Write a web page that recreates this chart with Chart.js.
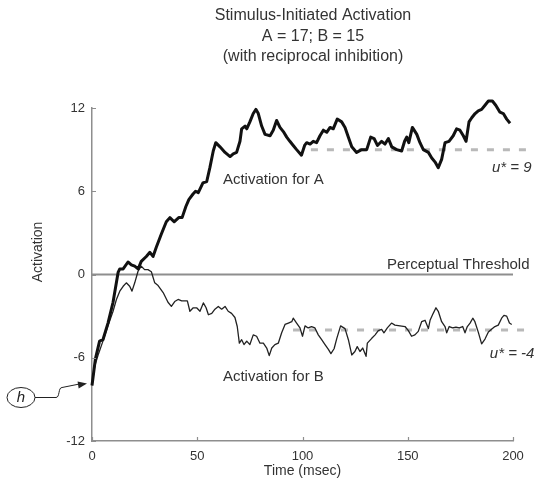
<!DOCTYPE html>
<html>
<head>
<meta charset="utf-8">
<script src="https://cdn.jsdelivr.net/npm/chart.js@4.4.1/dist/chart.umd.min.js"></script>
<style>
  html, body { margin: 0; padding: 0; background: #fff; }
</style>
</head>
<body>
<canvas id="act" width="536" height="486"></canvas>
<script>
// unit A (thick trace): time in msec, activation
const timeA = [0, 1.6, 3.6, 5.2, 7.6, 10, 12.4, 13.2, 14.8, 17.1, 18.7, 20.3, 21.9, 23.4, 25.8, 27.5, 29, 30.5, 32.9, 35.3,
  37, 39, 41.2, 42.8, 44.6, 46, 48, 49.2, 50.5, 52.7, 54.5, 56, 57.6, 58.8, 60.8, 63.2, 65.6, 67.1, 68.7, 70.3,
  71.1, 72.7, 73.5, 75, 76.6, 77.9, 79, 80.6, 82.2, 84.6, 86.1, 87.7, 89.3, 90.9, 92.5, 94, 95.6, 97.2, 99.5, 101,
  102, 103.6, 105.1, 106.7, 108.3, 109.9, 111.5, 113.1, 114.6, 116.5, 118.6, 120.2, 121.8, 123.4, 125.7, 128.1, 130.5, 132.4, 134, 135.6,
  137.6, 139.2, 140.8, 142.4, 144.7, 147.1, 148.5, 149.5, 150.5, 152.2, 154.3, 155.8, 157.4, 159.8, 161.4, 163, 164.5, 166.1, 167.7, 169.6,
  171.6, 173.2, 174.8, 176.4, 177.7, 179.1, 180.4, 182, 183.5, 185.1, 186.7, 188.3, 190.2, 191.8, 193.8, 195.4, 197, 198.6];
const actA = [-8, -6.1, -4.8, -4.7, -3.5, -2, 0.15, 0.4, 0.4, 0.9, 0.7, 0.6, 0.4, 0.95, 1.3, 1.6, 1.3, 1.95, 2.9, 3.8,
  4.1, 3.8, 4.1, 4.1, 4.9, 5.4, 5.8, 6, 5.9, 6.6, 6.7, 7.7, 8.9, 9.5, 9.2, 8.8, 8.5, 8.7, 8.8, 9.6,
  10.5, 10.7, 10.5, 11, 11.6, 11.9, 11.6, 10.7, 10.1, 10, 10.4, 11.1, 10.6, 10.3, 9.9, 9.6, 9.3, 9, 8.6, 9.3,
  9.5, 9.4, 9.6, 9.5, 10, 10.4, 10.25, 10.6, 10.5, 11.2, 11, 10.6, 9.9, 9.2, 8.8, 9, 9, 9.9, 9.8, 9.3,
  9.6, 9.4, 9.8, 9.2, 9, 8.9, 9.6, 9.9, 9.5, 10.6, 10.1, 9.5, 9, 8.8, 8.4, 8.1, 7.7, 8.3, 9.5, 9.6,
  10, 10.5, 10.4, 10, 9.6, 11, 11.3, 11.6, 11.8, 11.9, 12.2, 12.5, 12.5, 12.2, 11.7, 11.6, 11.2, 10.9];

// unit B (thin trace)
const timeB = [0, 1.3, 2.9, 5.2, 7.6, 10, 11.6, 13.2, 14.8, 16.3, 17.9, 19, 20.3, 21.9, 23.4, 25, 26.6, 28.2, 29.8, 31.4,
  33.8, 36.1, 37.7, 39.3, 40.9, 42.6, 44.2, 45.3, 46.5, 48.1, 49.7, 51.3, 52.9, 54.2, 55.3, 56.9, 58.4, 60, 61.6, 63.2,
  64.7, 66.3, 67.9, 69, 70, 71.1, 72.2, 73.5, 75, 76.6, 78.2, 79.8, 81.4, 83, 84.2, 85.4, 86.9, 88.5, 90.1, 91.7,
  93.3, 94.9, 95.6, 97.2, 98.8, 100, 101.2, 102.7, 104.3, 105.9, 107.5, 109.1, 110.7, 112.3, 113.5, 115, 116.3, 118.1, 120.2, 121.8,
  123.4, 124.9, 126, 127.3, 128.6, 130.2, 130.8, 132.9, 134.5, 136, 137.6, 138.7, 140.3, 142.3, 143.9, 146.3, 148.7, 150.3, 151.8, 153.4,
  155, 156.6, 158.2, 159.8, 160.6, 162.1, 163.4, 164.5, 166.1, 167.7, 168.5, 169.7, 171.3, 172.9, 174.5, 176.1, 177.2, 178.3, 179.6, 180.9,
  181.9, 183.5, 185.1, 186.7, 188.3, 189.8, 191.4, 193, 194.6, 195.7, 197, 198.3, 199.4];
const actB = [-8, -6.6, -5.8, -4.8, -3.7, -2.65, -1.8, -1.2, -0.85, -0.6, -0.85, -1.2, -0.6, 0.25, 0.6, 0.35, 0.35, 0.2, -0.6, -0.8,
  -1.3, -2, -2.3, -1.95, -1.8, -1.9, -1.9, -1.9, -2.65, -2.4, -2.4, -2.65, -2.05, -2.4, -2.9, -2.8, -2.5, -2.3, -2.5, -2.3,
  -2.65, -2.8, -3.1, -3.75, -4.95, -4.7, -5.05, -4.8, -5.05, -4.35, -4.45, -4.95, -4.95, -5.3, -5.85, -5.3, -5.05, -4.95, -4.2, -3.6,
  -3.5, -3.4, -3.15, -3.5, -3.85, -4.45, -3.7, -3.85, -3.75, -3.85, -4.35, -4.7, -5.05, -5.4, -5.7, -5.35, -4.6, -3.7, -3.9, -4.7,
  -5.8, -5.55, -5.2, -5.55, -5.3, -5.9, -4.95, -4.6, -4.35, -4.05, -3.95, -4.2, -3.85, -3.5, -3.65, -3.7, -3.75, -4.05, -4.45, -4.35,
  -4.1, -3.4, -3.3, -3.9, -3.3, -2.8, -2.4, -2.65, -3.4, -3.75, -4.2, -3.75, -3.85, -3.8, -3.85, -3.75, -4.2, -3.75, -3.5, -3.15,
  -3.4, -4.15, -5, -4.65, -4.15, -3.95, -3.75, -3.65, -3.15, -2.95, -3, -3.5, -3.6];

// equilibrium levels u* and where their dashed guides run
const uStarA = 9, uStarB = -4;
const uSpanA = [104, 207], uSpanB = [95.5, 207];
const threshold = 0;
const thresholdSpan = [0, 200];

const xTicks = [0, 50, 100, 150, 200];
const yTicks = [-12, -6, 0, 6, 12];
const titleLines = ['Stimulus-Initiated Activation', 'A = 17; B = 15', '(with reciprocal inhibition)'];

const FONT = "'Liberation Sans', Arial, sans-serif";
const TEXT = '#333';
const AXIS = '#8e8e8e';

const pts = (xs, ys) => xs.map((x, i) => ({ x, y: ys[i] }));
const flat = (span, v) => span.map(x => ({ x, y: v }));

// titles, inner tick marks, curve labels and the h marker
const decor = {
  id: 'decor',
  afterDraw(chart) {
    const { ctx, chartArea: ca, scales: { x, y } } = chart;
    ctx.save();

    // short tick marks pointing into the plot
    ctx.strokeStyle = AXIS;
    ctx.lineWidth = 1.2;
    ctx.beginPath();
    x.ticks.forEach(t => {
      const px = Math.round(x.getPixelForValue(t.value)) + 0.5;
      ctx.moveTo(px, ca.bottom);
      ctx.lineTo(px, ca.bottom - 4);
    });
    y.ticks.forEach(t => {
      const py = Math.round(y.getPixelForValue(t.value)) + 0.5;
      ctx.moveTo(ca.left, py);
      ctx.lineTo(ca.left + 4, py);
    });
    ctx.stroke();

    ctx.fillStyle = TEXT;
    ctx.textAlign = 'center';
    ctx.textBaseline = 'middle';
    ctx.font = '16px ' + FONT;
    titleLines.forEach((s, i) => ctx.fillText(s, 313, 16 + i * 20.5));

    ctx.font = '14px ' + FONT;
    ctx.fillText('Time (msec)', (ca.left + ca.right) / 2, 471);
    ctx.save();
    ctx.translate(38, 252);
    ctx.rotate(-Math.PI / 2);
    ctx.fillText('Activation', 0, 0);
    ctx.restore();

    // labels placed in data coordinates
    const label = (s, t, v, font) => {
      ctx.font = font;
      ctx.textAlign = 'left';
      ctx.textBaseline = 'alphabetic';
      ctx.fillText(s, x.getPixelForValue(t), y.getPixelForValue(v));
    };
    const plain = '15px ' + FONT, ital = 'italic 15px ' + FONT;
    label('Perceptual Threshold', 140.1, threshold + 0.42, plain);
    label('Activation for A', 62.2, 6.5, plain);
    label('Activation for B', 62.2, -7.7, plain);
    label('u* = 9', 190, 7.4, ital);
    label('u* = -4', 189, -6.0, ital);

    // h: starting activation, arrow to the first point
    const x0 = x.getPixelForValue(timeA[0]);
    const y0 = y.getPixelForValue(actA[0]);
    ctx.strokeStyle = '#222';
    ctx.lineWidth = 1;
    ctx.beginPath();
    ctx.ellipse(x0 - 71, y0 + 12, 14, 10, 0, 0, Math.PI * 2);
    ctx.stroke();
    ctx.fillStyle = '#222';
    ctx.font = 'italic 15px ' + FONT;
    ctx.textAlign = 'center';
    ctx.textBaseline = 'middle';
    ctx.fillText('h', x0 - 71, y0 + 12);

    const tipX = x0 - 5, tipY = y0 - 2;
    ctx.beginPath();
    ctx.moveTo(x0 - 57, y0 + 12);
    ctx.lineTo(x0 - 36, y0 + 12);
    ctx.bezierCurveTo(x0 - 32, y0 + 12, x0 - 34, y0 + 2, x0 - 30, y0 + 2);
    ctx.lineTo(tipX - 8, tipY + 0.6);
    ctx.stroke();
    const ang = Math.atan2(tipY - (y0 + 2), tipX - (x0 - 30));
    ctx.beginPath();
    ctx.moveTo(tipX, tipY);
    ctx.lineTo(tipX - 9 * Math.cos(ang) + 3.5 * Math.sin(ang), tipY - 9 * Math.sin(ang) - 3.5 * Math.cos(ang));
    ctx.lineTo(tipX - 9 * Math.cos(ang) - 3.5 * Math.sin(ang), tipY - 9 * Math.sin(ang) + 3.5 * Math.cos(ang));
    ctx.closePath();
    ctx.fill();

    ctx.restore();
  }
};

new Chart(document.getElementById('act'), {
  type: 'line',
  data: {
    datasets: [
      // A peaks a little above the top of the axis, so it is not clipped
      { label: 'A', data: pts(timeA, actA), borderColor: '#111', borderWidth: 3, clip: false },
      { label: 'B', data: pts(timeB, actB), borderColor: '#222', borderWidth: 1.3 },
      { label: 'u* A', data: flat(uSpanA, uStarA), borderColor: '#b9b9b9', borderWidth: 3, borderDash: [7, 9], clip: false },
      { label: 'u* B', data: flat(uSpanB, uStarB), borderColor: '#b9b9b9', borderWidth: 3, borderDash: [7, 9], clip: false },
      { label: 'threshold', data: flat(thresholdSpan, threshold), borderColor: AXIS, borderWidth: 2 }
    ]
  },
  options: {
    responsive: false,
    animation: false,
    devicePixelRatio: 1,
    layout: { padding: { top: 108, right: 23, left: 0, bottom: 0 } },
    elements: { point: { radius: 0 }, line: { tension: 0, borderJoinStyle: 'round' } },
    plugins: { legend: { display: false }, tooltip: { enabled: false } },
    scales: {
      x: {
        type: 'linear', min: 0, max: 200,
        afterBuildTicks: s => { s.ticks = xTicks.map(value => ({ value })); },
        afterFit: s => { s.height = 45; },
        grid: { display: false, drawTicks: false },
        border: { color: AXIS, width: 1.5 },
        ticks: { padding: 8, color: TEXT, font: { family: FONT, size: 13 } }
      },
      y: {
        type: 'linear', min: -12, max: 12,
        afterBuildTicks: s => { s.ticks = yTicks.map(value => ({ value })); },
        afterFit: s => { s.width = 92; },
        grid: { display: false, drawTicks: false },
        border: { color: AXIS, width: 1.5 },
        ticks: { padding: 7, color: TEXT, font: { family: FONT, size: 13 } }
      }
    }
  },
  plugins: [decor]
});
</script>
</body>
</html>
